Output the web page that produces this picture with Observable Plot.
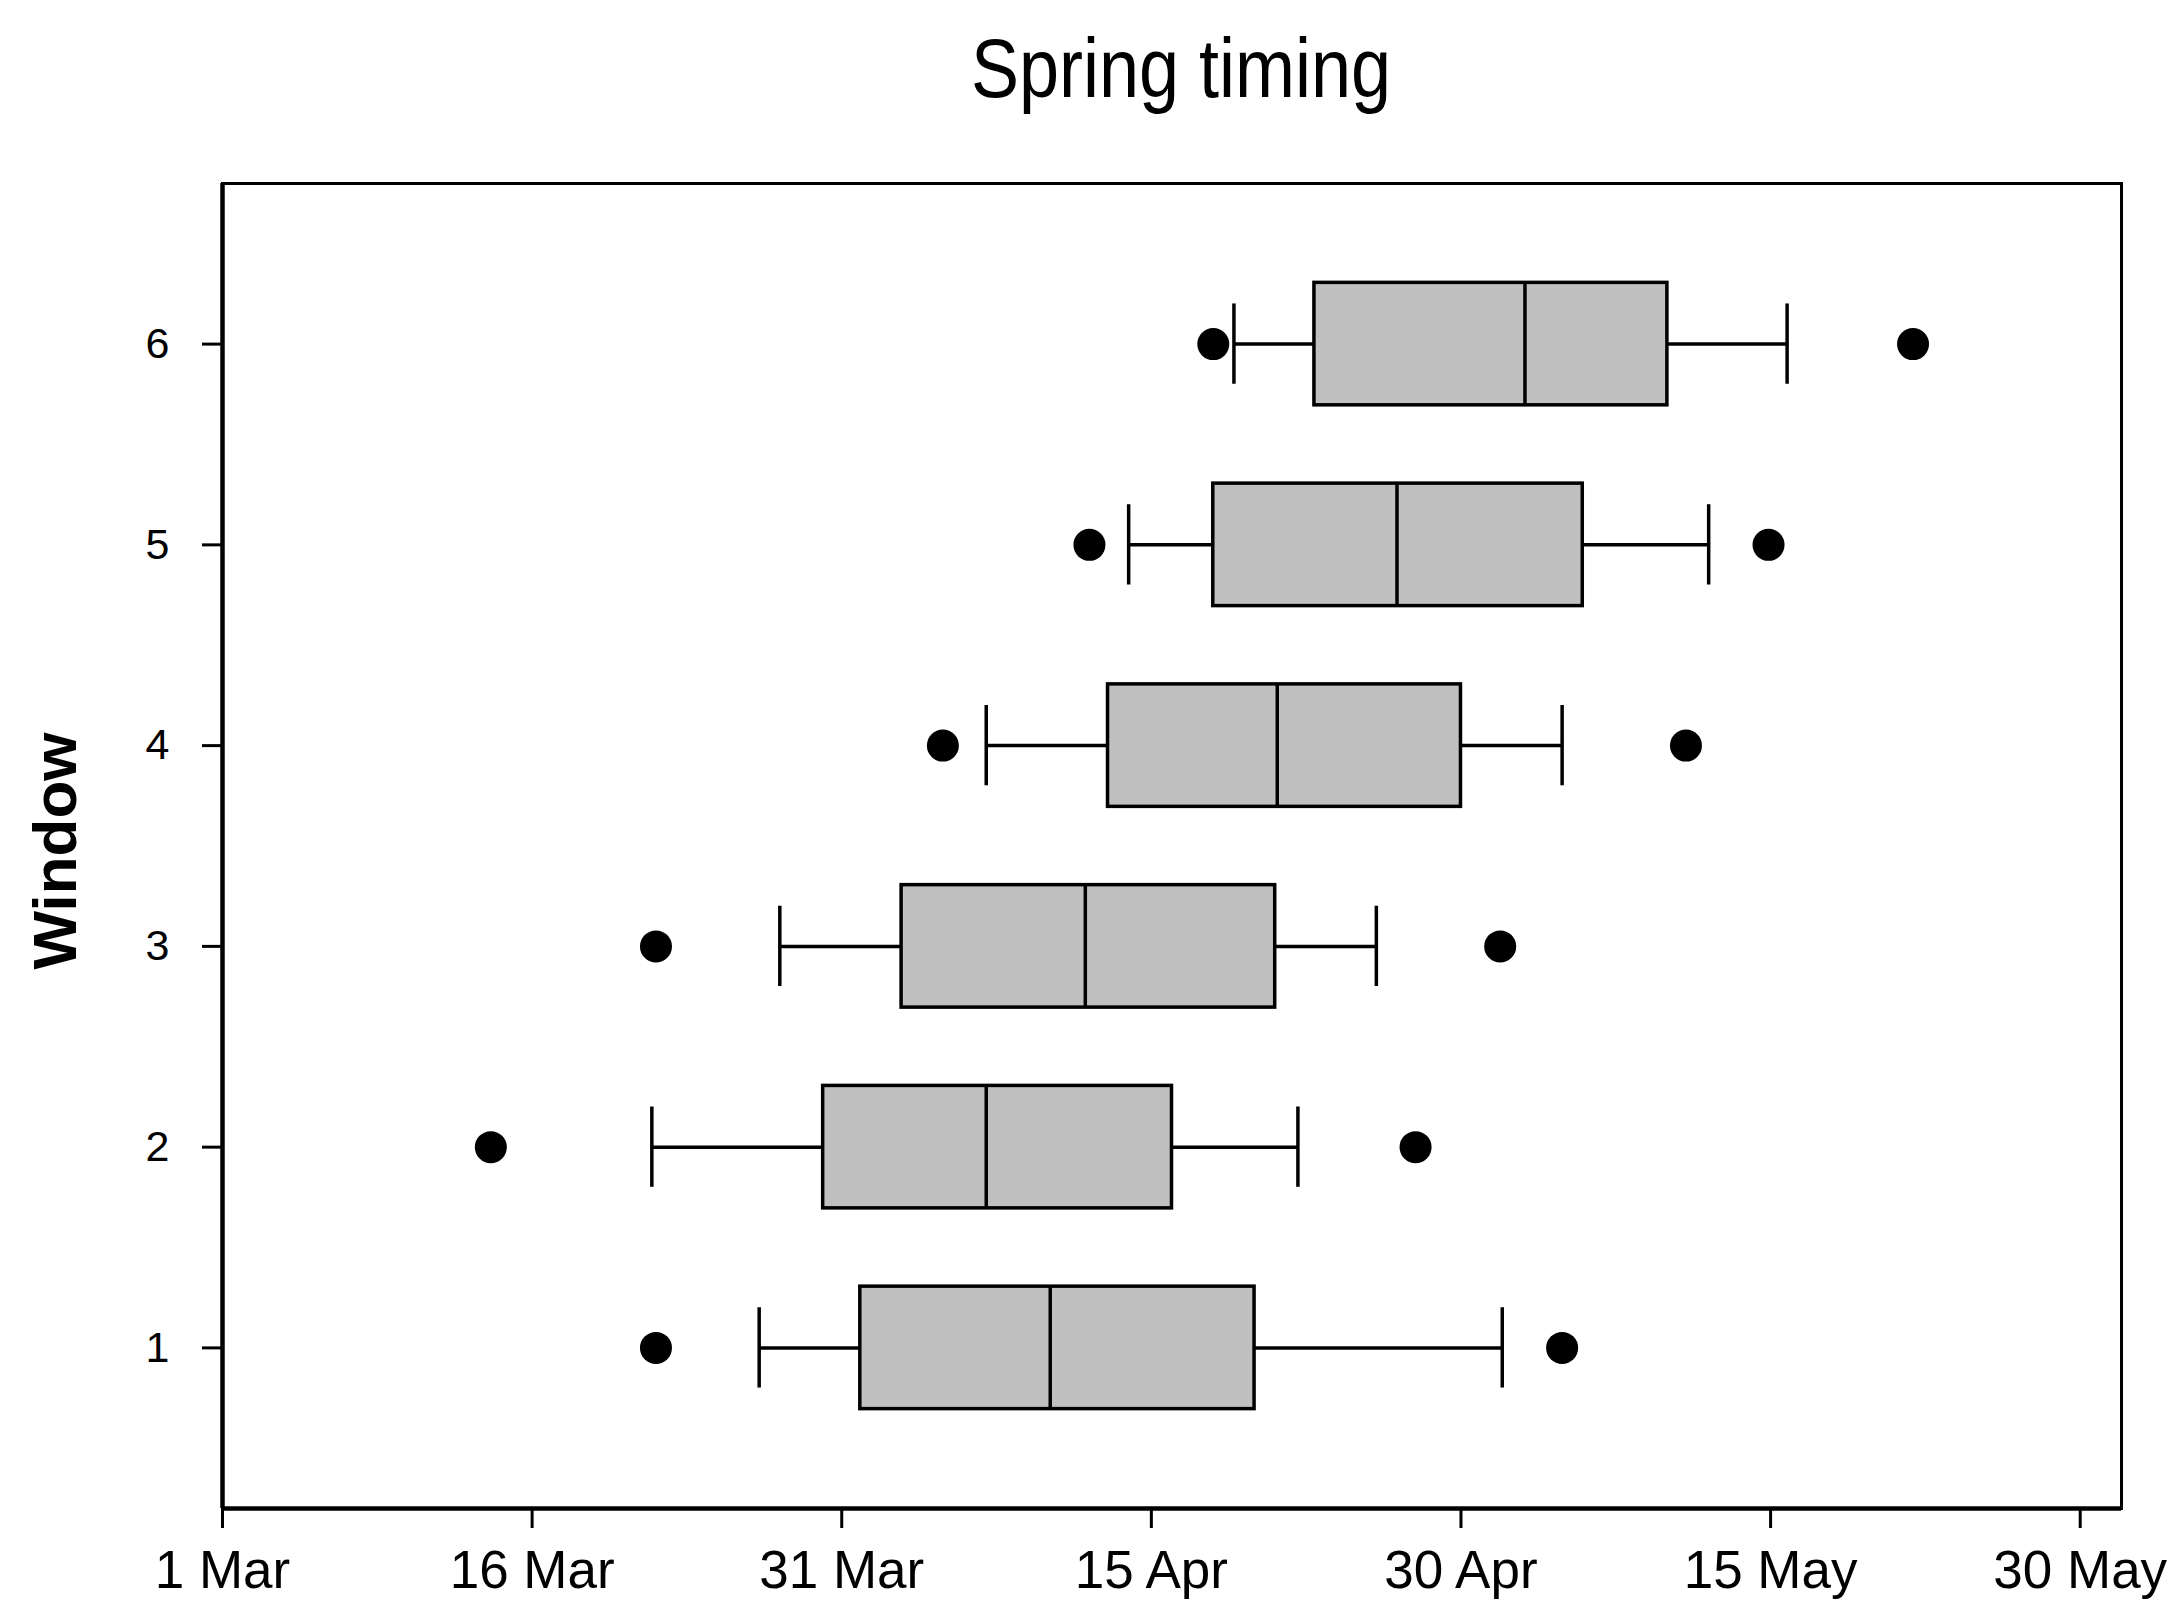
<!DOCTYPE html>
<html>
<head>
<meta charset="utf-8">
<script src="https://cdn.jsdelivr.net/npm/d3@7"></script>
<script src="https://cdn.jsdelivr.net/npm/@observablehq/plot@0.6"></script>
<style>
  html, body { margin: 0; padding: 0; background: #fff; }
  #title {
    width: 2174px; height: 150px; box-sizing: border-box;
    padding-top: 32px; padding-left: 188px; text-align: center;
    font-family: "Liberation Sans", Arial, sans-serif; color: #000;
  }
  #title span {
    display: inline-block; font-size: 72px; line-height: 72px;
    transform: scaleY(1.15); transform-origin: center;
  }
</style>
</head>
<body>
<div id="title"><span>Spring timing</span></div>
<div id="chart"></div>
<script>
// Days counted from 1 March
const windows      = [1, 2, 3, 4, 5, 6];
const lowOutlier   = [21.0, 13.0, 21.0, 34.9, 42.0, 48.0];
const whiskerLow   = [26.0, 20.8, 27.0, 37.0, 43.9, 49.0];
const q1           = [30.9, 29.1, 32.9, 42.9, 48.0, 52.9];
const median       = [40.1, 37.0, 41.8, 51.1, 56.9, 63.1];
const q3           = [50.0, 46.0, 51.0, 60.0, 65.9, 70.0];
const whiskerHigh  = [62.0, 52.1, 55.9, 64.9, 72.0, 75.8];
const highOutlier  = [64.9, 57.8, 61.9, 70.9, 74.9, 81.9];
const xTickDays    = [0, 15, 30, 45, 60, 75, 90];
const xTickLabels  = ["1 Mar", "16 Mar", "31 Mar", "15 Apr", "30 Apr", "15 May", "30 May"];
const yTicks       = [1, 2, 3, 4, 5, 6];

const rows = windows.map((w, i) => ({
  w, lo: whiskerLow[i], q1: q1[i], median: median[i], q3: q3[i], hi: whiskerHigh[i]
}));
const outliers = windows.flatMap((w, i) => [
  {w, x: lowOutlier[i]}, {w, x: highOutlier[i]}
]);

const boxHalf = 0.305, capHalf = 0.2;
const SW = 3.5;

const chart = Plot.plot({
  width: 2174,
  height: 1462,
  marginTop: 33,
  marginBottom: 104,
  marginLeft: 222,
  marginRight: 53,
  style: {fontFamily: "Liberation Sans, Arial, sans-serif", background: "#fff", color: "#000"},
  x: {domain: [0, 92]},
  y: {domain: [0.2, 6.8]},
  marks: [
    Plot.frame({stroke: "#000", strokeWidth: 3}),
    Plot.ruleX([0], {stroke: "#000", strokeWidth: 4.5}),
    Plot.ruleY([0.2], {stroke: "#000", strokeWidth: 4.5}),
    Plot.ruleY(rows, {y: "w", x1: "lo", x2: "q1", stroke: "#000", strokeWidth: SW}),
    Plot.ruleY(rows, {y: "w", x1: "q3", x2: "hi", stroke: "#000", strokeWidth: SW}),
    Plot.ruleX(rows, {x: "lo", y1: d => d.w - capHalf, y2: d => d.w + capHalf, stroke: "#000", strokeWidth: SW}),
    Plot.ruleX(rows, {x: "hi", y1: d => d.w - capHalf, y2: d => d.w + capHalf, stroke: "#000", strokeWidth: SW}),
    Plot.rect(rows, {x1: "q1", x2: "q3", y1: d => d.w - boxHalf, y2: d => d.w + boxHalf,
      fill: "#c0c0c0", stroke: "#000", strokeWidth: SW}),
    Plot.ruleX(rows, {x: "median", y1: d => d.w - boxHalf, y2: d => d.w + boxHalf, stroke: "#000", strokeWidth: SW}),
    Plot.dot(outliers, {x: "x", y: "w", r: 16, fill: "#000", stroke: "none"}),
    Plot.axisX({ticks: xTickDays, tickFormat: d => xTickLabels[xTickDays.indexOf(d)],
      tickSize: 20, tickPadding: 22, fontSize: 53, strokeWidth: 3, label: null}),
    Plot.axisY({ticks: yTicks, tickFormat: d => String(d),
      tickSize: 20, tickPadding: 33, fontSize: 43, strokeWidth: 3, label: null}),
    Plot.text(["Window"], {frameAnchor: "left", textAnchor: "middle", lineAnchor: "middle",
      rotate: -90, dx: -166, dy: 5,
      fontSize: 62, fontWeight: "bold", fill: "#000"})
  ]
});
document.getElementById("chart").appendChild(chart);
</script>
</body>
</html>
